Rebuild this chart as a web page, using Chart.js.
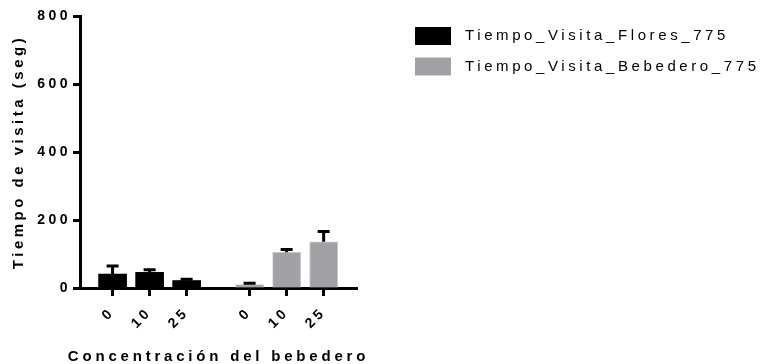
<!DOCTYPE html>
<html>
<head>
<meta charset="utf-8">
<script src="https://cdn.jsdelivr.net/npm/chart.js@4/dist/chart.umd.min.js"></script>
<style>
  html, body { margin: 0; padding: 0; background: #fff; }
  canvas { display: block; }
</style>
</head>
<body>
<canvas id="c" width="761" height="364"></canvas>
<script>
// Visit time (s) by feeder concentration, mean and SD per group
const concentrations = ['0', '10', '25'];
const seriesNames = ['Tiempo_Visita_Flores_775', 'Tiempo_Visita_Bebedero_775'];
const floresMean = [41, 46, 22];
const floresSD = [24, 8, 4];
const bebederoMean = [10, 105, 136];
const bebederoSD = [4, 8, 30];
const yTicks = [0, 200, 400, 600, 800];
const xTitle = 'Concentración del bebedero';
const yTitle = 'Tiempo de visita (seg)';

// Layout of the two groups along a linear axis (one unit per bar, extra gap between groups)
const GROUP_GAP = 0.7;
const groupStart = g => g * (concentrations.length + GROUP_GAP);
const positions = [0, 1].flatMap(g => concentrations.map((_, i) => groupStart(g) + i));
const tickLabels = concentrations.concat(concentrations);
const sdBySeries = [floresSD, bebederoSD];

const FONT = '"Liberation Sans", Arial, Helvetica, sans-serif';
Chart.defaults.font.family = FONT;
Chart.defaults.color = '#000';

// Wide letter spacing for all chart text
const spacing = {
  id: 'spacing',
  beforeUpdate(chart) { chart.ctx.letterSpacing = '3.5px'; },
  beforeDraw(chart) { chart.ctx.letterSpacing = '3.5px'; }
};

// Upper error bars (mean + SD) with a short cap
const errorBars = {
  id: 'errorBars',
  afterDatasetsDraw(chart) {
    const ctx = chart.ctx;
    const yScale = chart.scales.y;
    chart.data.datasets.forEach((ds, di) => {
      const meta = chart.getDatasetMeta(di);
      meta.data.forEach((bar, i) => {
        const top = yScale.getPixelForValue(ds.data[i].y + sdBySeries[di][i]);
        ctx.save();
        ctx.strokeStyle = '#000';
        ctx.lineWidth = 3;
        ctx.beginPath();
        ctx.moveTo(bar.x, bar.y);
        ctx.lineTo(bar.x, top);
        ctx.moveTo(bar.x - 6, top);
        ctx.lineTo(bar.x + 6, top);
        ctx.stroke();
        ctx.restore();
      });
    });
  }
};

// X axis title, centred under the plot at full width (no squeezing)
const xAxisTitle = {
  id: 'xAxisTitle',
  afterDraw(chart) {
    const ctx = chart.ctx;
    const area = chart.chartArea;
    ctx.save();
    ctx.letterSpacing = '3.8px';
    ctx.font = 'bold 15px ' + FONT;
    ctx.fillStyle = '#000';
    ctx.textAlign = 'center';
    ctx.textBaseline = 'alphabetic';
    ctx.fillText(xTitle, (area.left + area.right) / 2, chart.height - 3);
    ctx.restore();
  }
};

// Legend block to the right of the plot
const legendBlock = {
  id: 'legendBlock',
  afterDraw(chart) {
    const ctx = chart.ctx;
    ctx.save();
    ctx.letterSpacing = '3.6px';
    ctx.font = '15px ' + FONT;
    ctx.textBaseline = 'middle';
    ctx.textAlign = 'left';
    chart.data.datasets.forEach((ds, i) => {
      const top = 27 + i * 30.5;
      ctx.fillStyle = ds.backgroundColor;
      ctx.fillRect(415, top, 36, 18);
      ctx.fillStyle = '#000';
      ctx.fillText(ds.label, 465, top + 9);
    });
    ctx.restore();
  }
};

const toPoints = (means, g) => means.map((v, i) => ({ x: groupStart(g) + i, y: v }));

new Chart(document.getElementById('c'), {
  type: 'bar',
  data: {
    datasets: [
      {
        label: seriesNames[0],
        data: toPoints(floresMean, 0),
        backgroundColor: '#000000',
        borderWidth: 0,
        barThickness: 28,
        grouped: false
      },
      {
        label: seriesNames[1],
        data: toPoints(bebederoMean, 1),
        backgroundColor: '#a2a2a6',
        borderColor: '#c6c6ca',
        borderWidth: 1,
        barThickness: 28,
        grouped: false
      }
    ]
  },
  options: {
    responsive: false,
    animation: false,
    devicePixelRatio: 1,
    layout: { padding: { left: 0, right: 404, top: 16, bottom: 0 } },
    plugins: { legend: { display: false }, tooltip: { enabled: false } },
    scales: {
      x: {
        type: 'linear',
        offset: false,
        min: -0.88,
        max: 6.6,
        z: 1,
        grid: { drawOnChartArea: false, offset: false, tickLength: 8, tickWidth: 3, tickColor: '#000' },
        border: { width: 3, color: '#000' },
        afterBuildTicks(scale) { scale.ticks = positions.map(v => ({ value: v })); },
        afterFit(scale) { scale.height = 76; },
        ticks: {
          autoSkip: false,
          minRotation: 45,
          maxRotation: 45,
          padding: 8,
          color: '#000',
          font: { size: 14, weight: 'bold' },
          callback: (v, i) => tickLabels[i]
        },
        title: { display: false }
      },
      y: {
        min: 0,
        max: 800,
        z: 1,
        afterBuildTicks(scale) { scale.ticks = yTicks.map(v => ({ value: v })); },
        afterFit(scale) { scale.width = 80; },
        grid: { drawOnChartArea: false, tickLength: 7, tickWidth: 3, tickColor: '#000' },
        border: { width: 3, color: '#000' },
        ticks: { padding: 2, color: '#000', font: { size: 14, weight: 'bold' } },
        title: {
          display: true,
          text: yTitle,
          color: '#000',
          font: { size: 15, weight: 'bold' },
          padding: { top: 10, bottom: 0 }
        }
      }
    }
  },
  plugins: [spacing, errorBars, xAxisTitle, legendBlock]
});
</script>
</body>
</html>
